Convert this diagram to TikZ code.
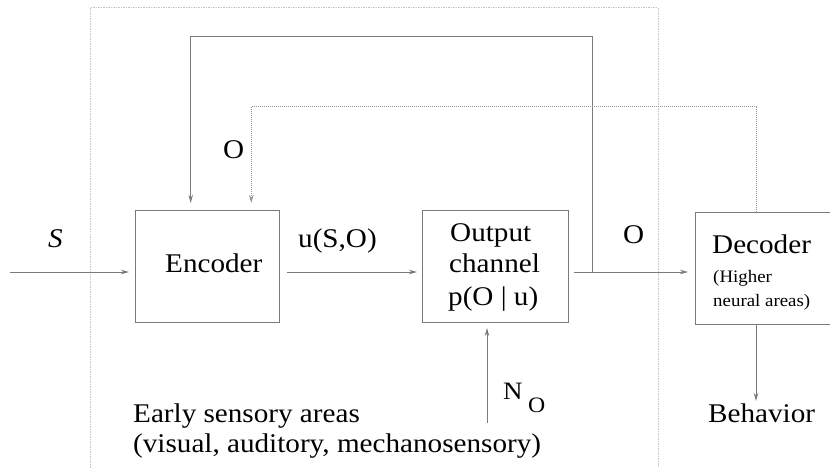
\documentclass[tikz,border=0pt]{standalone}
\usepackage{fontspec}
\setmainfont{Liberation Serif}[FakeStretch=1.08]
\usetikzlibrary{arrows.meta}
\definecolor{linegray}{HTML}{7A7A7A}
\definecolor{framegray}{HTML}{C4C4C4}
\definecolor{dotgray}{HTML}{959595}
\begin{document}
\begin{tikzpicture}[x=1pt,y=-1pt,
  box/.style={draw=linegray,line width=1.1pt,inner sep=0pt,anchor=north west},
  lbl/.style={inner sep=0pt,anchor=base west,font=\fontsize{27}{30}\selectfont},
  small/.style={inner sep=0pt,anchor=base west,font=\fontsize{17.5}{20}\selectfont},
  sub/.style={inner sep=0pt,anchor=base west},
  conn/.style={draw=linegray,line width=1pt},
  tip/.style={-{Stealth[length=8pt,width=4.5pt,inset=2.5pt]}},
  fb/.style={draw=dotgray,line width=1pt,dash pattern=on 1pt off 1pt},
  frame/.style={draw=framegray,line width=1pt,dash pattern=on 1.5pt off 1pt}
]
\clip (0,0) rectangle (830,468);
\fill[white] (0,0) rectangle (830,468);

% dotted frame
\coordinate (fbl) at (90,470);
\coordinate (ftl) at (90,8);
\coordinate (ftr) at (658,8);
\coordinate (fbr) at (658,470);
\draw[frame] (fbl) -- (ftl) -- (ftr) -- (fbr);

% boxes
\node[box,minimum width=144pt,minimum height=112pt] (enc) at (135,210) {};
\node[box,minimum width=146pt,minimum height=112pt] (och) at (422,209.5) {};
\node[box,minimum width=145pt,minimum height=112pt] (dec) at (695,212) {};

% texts
\node[lbl] (encT) at (165,272) {Encoder};
\node[lbl] (ochT1) at (450,241) {Output};
\node[lbl] (ochT2) at (449,272) {channel};
\node[lbl] (ochT3) at (448,305) {p(O | u)};
\node[lbl] (decT) at (712,253) {Decoder};
\node[small] (decT2) at (713,282) {(Higher};
\node[small] (decT3) at (713,306) {neural areas)};
\node[lbl] (sT) at (48,247) {\itshape S};
\node[lbl] (uT) at (298,247) {u(S,O)};
\node[lbl] (oT) at (623,243) {O};
\node[lbl] (o2T) at (223,158) {O};
\node[sub] (nT) at (503,399) {\fontsize{25}{27}\selectfont N};
\node[sub] (nsT) at (528,412) {\fontsize{22}{24}\selectfont O};
\node[lbl] (behT) at (708,422) {Behavior};
\node[lbl] (earlyT) at (133,422) {Early sensory areas};
\node[lbl] (early2T) at (133,452) {(visual, auditory, mechanosensory)};

% coordinates for connectors
\coordinate (sin) at (10,272);
\coordinate (junc) at (592.3,272);
\coordinate (fbA) at (592.3,36.5);
\coordinate (fbB) at (190.7,36.5);
\coordinate (fbC) at (190.7,210);
\coordinate (dtop) at (756,212);
\coordinate (dA) at (756,107);
\coordinate (dB) at (251.3,107);
\coordinate (dC) at (251.3,210);
\coordinate (nin) at (487,423);
\coordinate (nout) at (487,322);
\coordinate (dbot) at (756,324);
\coordinate (beh) at (756,401);

% connectors
\draw[conn,tip,shorten >=6pt] (sin) -- (sin -| enc.west);
\draw[conn,tip,shorten <=7pt,shorten >=5pt] (enc.east |- sin) -- (och.west |- sin);
\draw[conn,tip,shorten <=5pt,shorten >=7pt] (och.east |- sin) -- (dec.west |- sin);
\draw[conn,tip,shorten >=7pt] (junc) -- (fbA) -- (fbB) -- (fbC);
\draw[fb,tip,shorten >=7pt] (dtop) -- (dA) -- (dB) -- (dC);
\draw[conn,tip,shorten >=6pt] (nin) -- (nout);
\draw[conn,tip] (dbot) -- (beh);
\end{tikzpicture}
\end{document}
